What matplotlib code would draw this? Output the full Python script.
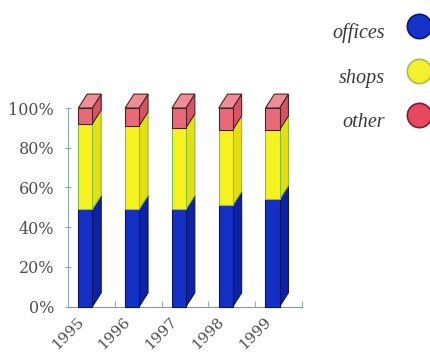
import matplotlib.pyplot as plt
from matplotlib.patches import Polygon
from matplotlib.lines import Line2D

# share of floor space by use, percent
years = ['1995', '1996', '1997', '1998', '1999']
offices = [49, 49, 49, 51, 54]
shops = [43, 42, 41, 38, 35]
other = [8, 9, 10, 11, 11]

series = [
    ('offices', offices, '#1430c4', '#0d22a2', '#0c1460'),
    ('shops', shops, '#f6f220', '#e4df12', '#86c040'),
    ('other', other, '#e86a78', '#d65464', '#4a2424'),
]
top_color = '#f08c96'
legend_fc = ['#1432c8', '#f4f030', '#e84862']
legend_ec = ['#0a1870', '#a8c040', '#7a2030']

W, H = 431, 352
fig = plt.figure(figsize=(W / 100, H / 100), dpi=100)
ax = fig.add_axes([68 / W, (H - 306.7) / H, 234 / W, 198.7 / H])

bw = 0.30      # front face width
dx = 0.19      # depth offset, x units
dy = 7.0       # depth offset, percent

for i in range(len(years)):
    x0 = i + 0.22
    bottom = 0
    for name, vals, fc, sc, ec in series:
        h = vals[i]
        side = Polygon([(x0 + bw, bottom), (x0 + bw + dx, bottom + dy),
                        (x0 + bw + dx, bottom + h + dy), (x0 + bw, bottom + h)],
                       closed=True, facecolor=sc, edgecolor=ec, lw=0.8,
                       clip_on=False, zorder=3)
        ax.add_patch(side)
        ax.bar(x0, h, width=bw, bottom=bottom, align='edge', color=fc,
               edgecolor=ec, linewidth=0.8, clip_on=False, zorder=4)
        bottom += h
    top = Polygon([(x0, bottom), (x0 + dx, bottom + dy),
                   (x0 + bw + dx, bottom + dy), (x0 + bw, bottom)],
                  closed=True, facecolor=top_color, edgecolor='#4a2424',
                  lw=0.8, clip_on=False, zorder=4)
    ax.add_patch(top)

ax.set_xlim(0, 5)
ax.set_ylim(0, 100)
for s in ['top', 'right']:
    ax.spines[s].set_visible(False)
ax.spines['left'].set_color('#8aaeb0')
ax.spines['bottom'].set_color('#6fa896')
ax.spines['left'].set_linewidth(0.8)
ax.spines['bottom'].set_linewidth(0.8)

ax.set_yticks([0, 20, 40, 60, 80, 100])
ax.set_yticklabels(['0%', '20%', '40%', '60%', '80%', '100%'],
                   family='DejaVu Serif', fontsize=11.5, color='#505050',
                   va='center_baseline')
ax.tick_params(axis='y', direction='inout', length=4, pad=8,
               color='#8aaeb0', width=0.8)

ax.set_xticks([1, 2, 3, 4, 5])
ax.set_xticklabels([])
ax.tick_params(axis='x', direction='in', length=4, color='#8aaeb0', width=0.8)

# year labels under the bars
for i, yr in enumerate(years):
    ax.text(i + 0.29, -6.5, yr, rotation=45, rotation_mode='anchor',
            ha='right', va='center', family='DejaVu Serif', fontsize=11,
            color='#505050', clip_on=False)

# legend: italic names with round swatches
for k, (name, *_rest) in enumerate(series):
    yb = 38 + 44.5 * k
    fig.text(385 / W, 1 - yb / H, name, ha='right', va='baseline',
             family='Liberation Serif', style='italic', fontsize=14.5,
             color='#3a3a3a')
    yc = 26 + 44.5 * k
    fig.add_artist(Line2D([419 / W], [1 - yc / H], marker='o',
                          markersize=17.5, markerfacecolor=legend_fc[k],
                          markeredgecolor=legend_ec[k], markeredgewidth=1.2,
                          linestyle='none', transform=fig.transFigure))

fig.savefig('out.png', dpi=100)
